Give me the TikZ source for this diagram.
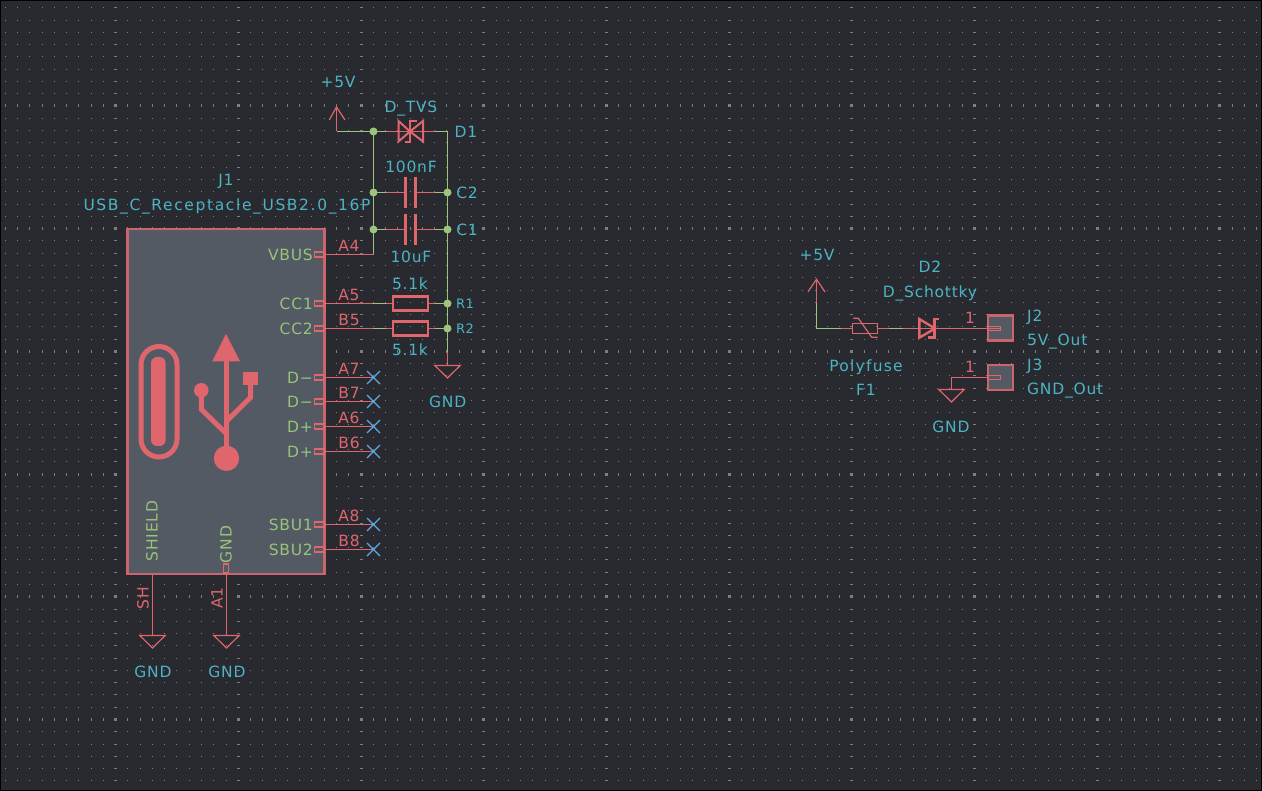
\documentclass[tikz,border=0pt]{standalone}
\usepackage{fontspec}
\setmainfont{DejaVu Sans}[LetterSpace=5]
\usetikzlibrary{positioning}
\definecolor{sheetbg}{HTML}{282A30}
\definecolor{griddot}{HTML}{7C7E82}
\definecolor{symred}{HTML}{E0666E}
\definecolor{wiregreen}{HTML}{9CC47C}
\definecolor{reftext}{HTML}{4DB3C3}
\definecolor{nametext}{HTML}{98C379}
\definecolor{ncblue}{HTML}{5EA8E8}
\definecolor{bodyfill}{HTML}{535A64}
\tikzset{
  red/.style = {draw=symred, line width=1.2pt},
  green/.style = {draw=wiregreen, line width=1.2pt},
  box/.style = {draw=symred!85!bodyfill, line width=2.6pt, fill=bodyfill},
  plate/.style = {draw=symred, line width=3pt},
  icon/.style = {draw=symred, line width=5pt},
  ref/.style = {text=reftext, inner sep=0pt, font=\fontsize{15.5}{18}\selectfont},
  small/.style = {ref, font=\fontsize{13}{15}\selectfont},
  pinname/.style = {text=nametext, inner sep=0pt, font=\fontsize{15.5}{18}\selectfont},
  pinnum/.style = {text=symred, inner sep=0pt, font=\fontsize{15.5}{18}\selectfont},
  stub/.style = {draw=symred, line width=1.2pt, fill=bodyfill},
  dot/.style = {circle, fill=wiregreen, inner sep=0pt, minimum size=8pt},
  nc/.style = {draw=ncblue, line width=1.2pt},
}
% ground symbol and no-connect cross
\newcommand{\gndsym}[2]{\draw[red] (#1-12.7,#2) -- (#1+12.7,#2) -- (#1,#2+12.5) -- cycle;}
\newcommand{\ncsym}[2]{\draw[nc] (#1-6.5,#2-6.5) -- (#1+6.5,#2+6.5) (#1-6.5,#2+6.5) -- (#1+6.5,#2-6.5);}
\begin{document}
\begin{tikzpicture}[x=1pt, y=-1pt]
  \useasboundingbox (0,0) rectangle (1262,791);
  \fill[sheetbg] (0,0) rectangle (1262,791);
  \draw[black, line width=2pt] (0,0) rectangle (1262,791);

  % grid
  \foreach \i in {0,...,102} {
    \pgfmathsetmacro{\dx}{int(mod(\i,10))==9 ? 1.5 : 0.5}
    \pgfmathsetmacro{\gx}{floor(5.2+\i*12.27)+0.5}
    \foreach \j in {0,...,63} {
      \pgfmathsetmacro{\dy}{int(mod(\j,10))==8 ? 1.5 : 0.5}
      \pgfmathsetmacro{\gy}{floor(7.8+\j*12.27)+0.5}
      \fill[griddot] (\gx-\dx,\gy-\dy) rectangle (\gx+\dx,\gy+\dy);
    }
  }

  % connector J1
  \node[box, minimum width=197pt, minimum height=345pt, inner sep=0pt] (J1) at (225.7,401.5) {};
  \node[ref] (J1ref) at (226,181) {J1};
  \node[ref] (J1val) at (227,206.5) {\addfontfeature{LetterSpace=10.5}USB\_C\_Receptacle\_USB2.0\_16P};

  % usb logo
  \draw[icon, rounded corners=18pt] (141,346.5) rectangle (177,457);
  \fill[symred, rounded corners=6pt] (151,357) rectangle (165.7,446);
  \fill[symred] (226,334) -- (240,361.3) -- (212.3,361.3) -- cycle;
  \fill[symred] (226.5,458.3) circle (12.7);
  \fill[symred] (201.3,390.3) circle (7.3);
  \fill[symred] (243.3,371.7) rectangle (257.7,385.3);
  \draw[icon] (226,350) -- (226,450);
  \draw[icon] (201.3,390.3) -- (201.3,409.3) -- (226,433.3);
  \draw[icon] (250.7,385) -- (250.7,397.3) -- (226,421.7);

  % pin names, numbers and wires on the right side
  \foreach \py/\nm/\num in {254.5/VBUS/A4, 303.5/CC1/A5, 328.5/CC2/B5, 377.5/D−/A7, 401.5/D−/B7, 426.5/D+/A6, 451.5/D+/B6, 524.5/SBU1/A8, 549.5/SBU2/B8} {
    \draw[stub] (314.5,\py-2.5) rectangle (324,\py+2.5);
    \node[pinname, anchor=east] at (313,\py) {\nm};
    \node[pinnum] at (349,\py-8.5) {\num};
  }
  \foreach \py/\nm in {377.5/a, 401.5/b, 426.5/c, 451.5/d, 524.5/e, 549.5/f} {
    \coordinate (nc\nm) at (373.5,\py);
    \draw[red] (324,\py) -- (nc\nm);
    \ncsym{373.5}{\py}
  }

  % bottom pins
  \node[pinname, rotate=90] (shield) at (152,531) {SHIELD};
  \node[pinname, rotate=90] (gndname) at (226,544.5) {GND};
  \draw[stub] (223.7,564) rectangle (228.7,573);
  \node[pinnum, rotate=90] (SH) at (143,598) {SH};
  \node[pinnum, rotate=90] (A1) at (217,598) {A1};
  \draw[red] (152.5,575) -- (152.5,635);
  \draw[red] (226.5,573) -- (226.5,635);
  \gndsym{152.5}{635.5}
  \gndsym{226.5}{635.5}
  \node[ref] (gnda) at (153,672) {GND};
  \node[ref] (gndb) at (227,672) {GND};

  % power and protection
  \coordinate (vbus) at (373.5,254.5);
  \coordinate (rail) at (447.5,131.5);
  \coordinate (railend) at (447.5,352.5);
  \draw[green] (vbus) -- (373.5,131.5);
  \draw[green] (rail) -- (railend);
  \draw[red] (324,254.5) -- (vbus);
  \draw[green] (336.5,131.5) -- (386,131.5);
  \draw[red] (386,131.5) -- (435,131.5);
  \draw[green] (435,131.5) -- (rail);
  \draw[red] (336.5,131.5) -- (336.5,107);
  \draw[red] (329.3,120) -- (336.5,107) -- (345,120);
  \draw[red] (railend) -- (447.5,365.5);
  \gndsym{447.5}{365.5}

  % D1
  \draw[draw=symred, line width=2pt] (398.5,121) -- (410,131.5) -- (398.5,141.5) -- cycle;
  \draw[draw=symred, line width=2pt] (423,121) -- (410,131.5) -- (423,141.5) -- cycle;
  \draw[draw=symred, line width=2pt] (416.7,121) -- (410,121) -- (410,141.7) -- (405,141.7);

  % C2 and C1
  \foreach \cy in {192.5, 229.5} {
    \draw[green] (373.5,\cy) -- (386,\cy);
    \draw[red] (386,\cy) -- (405,\cy);
    \draw[plate] (405.7,\cy-15.5) -- (405.7,\cy+15.5);
    \draw[plate] (415,\cy-15.5) -- (415,\cy+15.5);
    \draw[red] (415,\cy) -- (435,\cy);
    \draw[green] (435,\cy) -- (447.5,\cy);
  }

  % R1 and R2
  \foreach \ry in {303.5, 328.5} {
    \draw[red] (324,\ry) -- (373,\ry);
    \draw[green] (373,\ry) -- (386,\ry);
    \draw[red] (386,\ry) -- (393,\ry);
    \draw[draw=symred, line width=2.4pt] (393,\ry-7) rectangle (428,\ry+7);
    \draw[red] (428,\ry) -- (435,\ry);
    \draw[green] (435,\ry) -- (447.5,\ry);
  }

  % junctions
  \node[dot] (n1) at (373.5,131.5) {};
  \node[dot] (n2) at (373.5,192.5) {};
  \node[dot] (n3) at (373.5,229.5) {};
  \node[dot] (n4) at (447.5,192.5) {};
  \node[dot] (n5) at (447.5,229.5) {};
  \node[dot] (n6) at (447.5,303.5) {};
  \node[dot] (n7) at (447.5,328.5) {};

  \node[ref] (vcc) at (338,82) {+5V};
  \node[ref] (tvs) at (411,109) {D\_TVS};
  \node[ref] (D1) at (466,132) {D1};
  \node[ref] (cval) at (411,167) {100nF};
  \node[ref] (C2) at (467,193) {C2};
  \node[ref] (C1) at (467,230) {C1};
  \node[ref] (cvalb) at (411,257) {10uF};
  \node[ref] (rval) at (410,284) {5.1k};
  \node[ref] (rvalb) at (410,350) {5.1k};
  \node[small] (R1) at (465,304) {R1};
  \node[small] (R2) at (465,328.5) {R2};
  \node[ref] (gndc) at (447.7,402) {GND};

  % output side
  \node[box, minimum size=25pt, inner sep=0pt] (J2) at (1000.3,328) {};
  \node[box, minimum size=25pt, inner sep=0pt] (J3) at (1000.3,377.5) {};
  \coordinate (pwr) at (816.5,328.5);
  \coordinate (gndr) at (951.5,377.5);
  \draw[red] (816.5,279.3) -- (816.5,302.7);
  \draw[red] (808,291.7) -- (816.5,279.3) -- (825,292);
  \draw[green] (816.5,302.7) -- (pwr) -- (841,328.5);
  \draw[red] (841,328.5) -- (852.3,328.5);
  \draw[red] (852.3,323.5) rectangle (877.3,333.5);
  \draw[red] (853.3,318.3) -- (858.3,318.3) -- (871.7,337.3) -- (877.7,337.3);
  \draw[red] (877.3,328.5) -- (889.3,328.5);
  \draw[green] (889.3,328.5) -- (903.3,328.5);
  \draw[red] (903.3,328.5) -- (1000.7,328.5);
  \draw[draw=symred, line width=2.4pt] (919.3,319) -- (935,328.5) -- (919.3,337.7) -- cycle;
  \draw[draw=symred, line width=2.4pt] (939,319) -- (934.5,319) -- (934.5,337.7) -- (928,337.7);
  \draw[stub, fill=none] (988,326.5) rectangle (1000.7,330.5);
  \draw[stub, fill=none] (988,375.5) rectangle (1000.7,379.5);
  \draw[red] (988,377.5) -- (gndr) -- (951.5,389.5);
  \gndsym{951.5}{389.5}

  \node[ref] (vccb) at (817,255) {+5V};
  \node[ref] (D2) at (930,267) {D2};
  \node[ref] (schottky) at (930,293) {D\_Schottky};
  \node[ref] (fuse) at (866,367) {\addfontfeature{LetterSpace=8}Polyfuse};
  \node[ref] (F1) at (866,390) {F1};
  \node[pinnum] (numa) at (970,318) {1};
  \node[pinnum] (numb) at (970,367) {1};
  \node[ref, anchor=west] (J2ref) at (1027,317) {J2};
  \node[ref, anchor=west] (J2val) at (1027,342) {5V\_Out};
  \node[ref, anchor=west] (J3ref) at (1027,366) {J3};
  \node[ref, anchor=west] (J3val) at (1027,391) {GND\_Out};
  \node[ref] (gndd) at (951,427) {GND};
\end{tikzpicture}
\end{document}
